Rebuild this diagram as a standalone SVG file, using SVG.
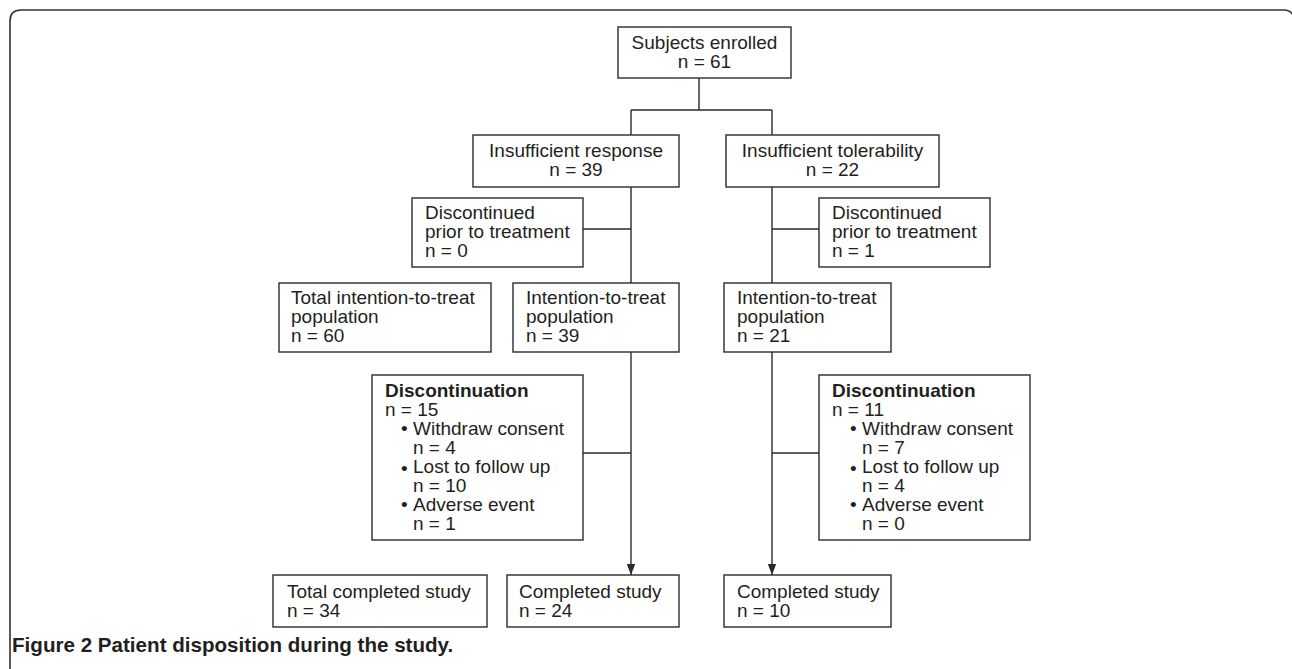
<svg xmlns="http://www.w3.org/2000/svg" width="1292" height="669" viewBox="0 0 1292 669">
<defs>
<style>
.box{fill:#fff;stroke:#2b2b2b;stroke-width:1.4}
.t{font-family:"Liberation Sans",Arial,sans-serif;font-size:19px;fill:#231f20}
.c{text-anchor:middle}
.b{font-weight:bold}
.ln{fill:none;stroke:#2b2b2b;stroke-width:1.4}
.cap{font-family:"Liberation Sans",Arial,sans-serif;font-size:20.6px;font-weight:bold;fill:#231f20}
</style>
<marker id="arr" markerUnits="userSpaceOnUse" markerWidth="11" markerHeight="10" viewBox="0 0 11 10" refX="11" refY="5" orient="auto">
<path d="M0,0.8 L11,5 L0,9.2 Z" fill="#2b2b2b"/>
</marker>
</defs>
<rect width="1292" height="669" fill="#fff"/>
<path d="M10,669 V21 Q10,10 21,10 H1284 Q1290,10 1293,15" fill="none" stroke="#333" stroke-width="1.6"/>

<g id="connectors">
<path class="ln" d="M699,78 V110 M631,110 H772 M631,110 V135 M772,110 V135"/>
<path class="ln" d="M631,187 V283 M583,229 H631"/>
<path class="ln" d="M772,187 V283 M772,229 H819"/>
<path class="ln" d="M631,352 V575" marker-end="url(#arr)"/>
<path class="ln" d="M583,453 H631"/>
<path class="ln" d="M772,352 V575" marker-end="url(#arr)"/>
<path class="ln" d="M772,453 H819"/>
</g>

<g id="enrolled">
<rect class="box" x="618" y="27" width="173" height="51"/>
<text class="t c" x="704.5" y="49">Subjects enrolled</text>
<text class="t c" x="704.5" y="68">n = 61</text>
</g>

<g id="insuff-response">
<rect class="box" x="473" y="135" width="206" height="52"/>
<text class="t c" x="576" y="157">Insufficient response</text>
<text class="t c" x="576" y="176">n = 39</text>
</g>

<g id="insuff-tolerability">
<rect class="box" x="726" y="135" width="213" height="52"/>
<text class="t c" x="832.5" y="157">Insufficient tolerability</text>
<text class="t c" x="832.5" y="176">n = 22</text>
</g>

<g id="disc-prior-left">
<rect class="box" x="412" y="198" width="171" height="69"/>
<text class="t" x="425" y="219">Discontinued</text>
<text class="t" x="425" y="238">prior to treatment</text>
<text class="t" x="425" y="257">n = 0</text>
</g>

<g id="disc-prior-right">
<rect class="box" x="819" y="198" width="171" height="69"/>
<text class="t" x="832" y="219">Discontinued</text>
<text class="t" x="832" y="238">prior to treatment</text>
<text class="t" x="832" y="257">n = 1</text>
</g>

<g id="total-itt">
<rect class="box" x="279" y="283" width="212" height="69"/>
<text class="t" x="291" y="304">Total intention-to-treat</text>
<text class="t" x="291" y="323">population</text>
<text class="t" x="291" y="342">n = 60</text>
</g>

<g id="itt-left">
<rect class="box" x="513" y="283" width="166" height="69"/>
<text class="t" x="526" y="304">Intention-to-treat</text>
<text class="t" x="526" y="323">population</text>
<text class="t" x="526" y="342">n = 39</text>
</g>

<g id="itt-right">
<rect class="box" x="724" y="283" width="167" height="69"/>
<text class="t" x="737" y="304">Intention-to-treat</text>
<text class="t" x="737" y="323">population</text>
<text class="t" x="737" y="342">n = 21</text>
</g>

<g id="discontinuation-left">
<rect class="box" x="372" y="375" width="211" height="165"/>
<text class="t b" x="385" y="397">Discontinuation</text>
<text class="t" x="385" y="416">n = 15</text>
<text class="t" x="401" y="435">•<tspan x="413">Withdraw consent</tspan></text>
<text class="t" x="413" y="454">n = 4</text>
<text class="t" x="401" y="475">•<tspan x="413" y="473">Lost to follow up</tspan></text>
<text class="t" x="413" y="492">n = 10</text>
<text class="t" x="401" y="511">•<tspan x="413">Adverse event</tspan></text>
<text class="t" x="413" y="530">n = 1</text>
</g>

<g id="discontinuation-right">
<rect class="box" x="819" y="375" width="211" height="165"/>
<text class="t b" x="832" y="397">Discontinuation</text>
<text class="t" x="832" y="416">n = 11</text>
<text class="t" x="850" y="435">•<tspan x="862">Withdraw consent</tspan></text>
<text class="t" x="862" y="454">n = 7</text>
<text class="t" x="850" y="475">•<tspan x="862" y="473">Lost to follow up</tspan></text>
<text class="t" x="862" y="492">n = 4</text>
<text class="t" x="850" y="511">•<tspan x="862">Adverse event</tspan></text>
<text class="t" x="862" y="530">n = 0</text>
</g>

<g id="total-completed">
<rect class="box" x="273" y="575" width="214" height="52"/>
<text class="t" x="287" y="598">Total completed study</text>
<text class="t" x="287" y="617">n = 34</text>
</g>

<g id="completed-left">
<rect class="box" x="507" y="575" width="172" height="52"/>
<text class="t" x="519" y="598">Completed study</text>
<text class="t" x="519" y="617">n = 24</text>
</g>

<g id="completed-right">
<rect class="box" x="724" y="575" width="167" height="52"/>
<text class="t" x="737" y="598">Completed study</text>
<text class="t" x="737" y="617">n = 10</text>
</g>

<text class="cap" x="12" y="652">Figure 2 Patient disposition during the study.</text>
</svg>
